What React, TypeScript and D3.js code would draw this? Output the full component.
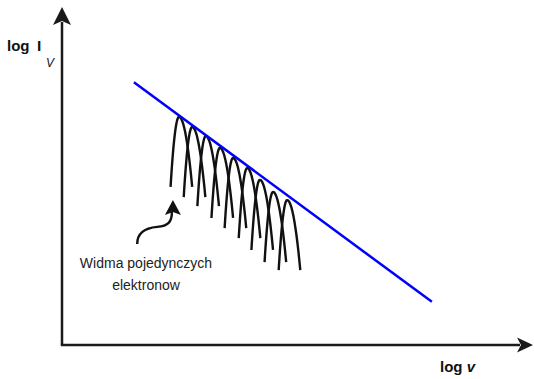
import React from "react";
import * as d3 from "d3";

const W = 534;
const H = 379;

// log ν positions of the single-electron spectra peaks
const peakX = [2.49, 2.77, 3.06, 3.36, 3.64, 3.94, 4.21, 4.49, 4.79];
// log I values of the peaks
const peakY = [6.77, 6.47, 6.2, 5.85, 5.55, 5.25, 4.9, 4.54, 4.3];
const peakDrop = 2.08; // height of each spectrum arch (log units)
const leftWidth = 0.18;
const rightWidth = 0.28;

// envelope (power law) line endpoints
const envX = [1.53, 7.87];
const envY = [7.8, 1.28];

// annotation pointer (tail, tip) in data units
const pointerX = [1.6, 2.36];
const pointerY = [3.0, 4.3];

const labelLines = ["Widma pojedynczych", "elektronow"];

export default function App() {
  const x = d3.scaleLinear().domain([0, 10]).range([62, 532]);
  const y = d3.scaleLinear().domain([0, 10]).range([345, 8]);

  const arch = (px: number, py: number) => {
    const ts = d3.range(-1, 1.0001, 0.05);
    const pts: [number, number][] = ts.map((t) => [
      x(px + (t < 0 ? leftWidth : rightWidth) * t),
      y(py - peakDrop * t * t),
    ]);
    return d3.line().curve(d3.curveCatmullRom)(pts) as string;
  };

  const envLine = d3.line()([
    [x(envX[0]), y(envY[0])],
    [x(envX[1]), y(envY[1])],
  ]) as string;

  const x0 = x(0), y0 = y(0), xEnd = x(10), yEnd = y(10);

  const tx = x(pointerX[0]), ty = y(pointerY[0]);
  const hx = x(pointerX[1]), hy = y(pointerY[1]);
  const pointerPath = `M${tx},${ty} C${tx},${ty - 12} ${tx + 9},${ty - 16} ${tx + 20},${ty - 17} C${tx + 31},${ty - 18} ${hx - 1},${hy + 22} ${hx - 1},${hy + 12}`;
  const pointerHead = `M${hx},${hy} L${hx + 8},${hy + 15} L${hx},${hy + 12} L${hx - 8},${hy + 15} Z`;

  const yArrow = `M${x0},${yEnd - 1} L${x0 + 9},${yEnd + 17} L${x0},${yEnd + 13} L${x0 - 9},${yEnd + 17} Z`;
  const xArrow = `M${xEnd + 1},${y0} L${xEnd - 15},${y0 - 7.5} L${xEnd - 11},${y0} L${xEnd - 15},${y0 + 7.5} Z`;

  return (
    <svg width={W} height={H} style={{ position: "absolute", left: 0, top: 0, background: "#fff" }}>
      <g fontFamily="'Liberation Sans', Arial, sans-serif">
        {/* axes */}
        <line x1={x0} y1={y0} x2={x0} y2={yEnd + 14} stroke="#1a1a1a" strokeWidth={2.5} />
        <line x1={x0 - 1.2} y1={y0} x2={xEnd - 12} y2={y0} stroke="#1a1a1a" strokeWidth={2.5} />
        <path d={yArrow} fill="#1a1a1a" />
        <path d={xArrow} fill="#1a1a1a" />

        {/* spectra */}
        {peakX.map((px, i) => (
          <path key={i} d={arch(px, peakY[i])} fill="none" stroke="#111" strokeWidth={2.4} />
        ))}

        {/* envelope */}
        <path d={envLine} stroke="#0000ff" strokeWidth={2.5} fill="none" />

        {/* pointer */}
        <path d={pointerPath} fill="none" stroke="#111" strokeWidth={2.4} />
        <path d={pointerHead} fill="#111" />

        {/* annotation */}
        {labelLines.map((s, i) => (
          <text key={i} x={146} y={268 + i * 22} textAnchor="middle" fontSize={14} fill="#222">
            {s}
          </text>
        ))}

        {/* axis labels */}
        <text x={7} y={51} fontSize={15} fontWeight="bold" fill="#111">log</text>
        <text x={37} y={51} fontSize={15.5} fontWeight="bold" fill="#111">I</text>
        <text x={46} y={67} fontSize={12} fontStyle="italic" fill="#111">V</text>
        <text x={440} y={372} fontSize={15} fontWeight="bold" fill="#111">
          log <tspan fontStyle="italic">v</tspan>
        </text>
      </g>
    </svg>
  );
}
